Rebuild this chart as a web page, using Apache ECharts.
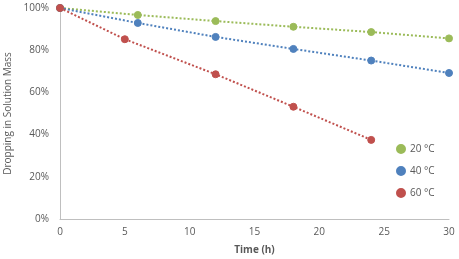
<!DOCTYPE html>
<html>
<head>
<meta charset="utf-8">
<script src="https://cdn.jsdelivr.net/npm/echarts@6/dist/echarts.min.js"></script>
<style>
  html, body { margin: 0; padding: 0; background: #fff; }
  #chart { width: 459px; height: 259px; }
</style>
</head>
<body>
<div id="chart"></div>
<script>
// values (time in h, mass in %)
const seriesNames = ['20 °C', '40 °C', '60 °C'];
const time20 = [0, 6, 12, 18, 24, 30];
const mass20 = [100, 96.7, 93.8, 91.1, 88.6, 85.6];
const time40 = [0, 6, 12, 18, 24, 30];
const mass40 = [100, 92.9, 86.3, 80.6, 75.1, 69.2];
const time60 = [0, 5, 12, 18, 24];
const mass60 = [100, 85.2, 68.6, 53.2, 37.5];
const colours = ['#9bbb59', '#4f81bd', '#c0504d'];

const pairs = (xs, ys) => xs.map((x, i) => [x, ys[i]]);
const allData = [pairs(time20, mass20), pairs(time40, mass40), pairs(time60, mass60)];

const chart = echarts.init(document.getElementById('chart'));

const series = seriesNames.map((name, i) => ({
    name: name,
    type: 'line',
    data: allData[i],
    symbol: 'circle',
    symbolSize: 7,
    itemStyle: { color: colours[i], borderColor: colours[i], borderWidth: 1 },
    lineStyle: { color: colours[i], width: 2, type: [2, 2] }
}));

chart.setOption({
    animation: false,
    textStyle: { fontFamily: 'Open Sans' },
    grid: { left: 60, right: 10, top: 8, bottom: 40, outerBoundsMode: 'none' },
    legend: {
        data: seriesNames,
        orient: 'vertical',
        left: 391,
        top: 139,
        itemWidth: 8,
        itemHeight: 8,
        itemGap: 12,
        icon: 'circle',
        textStyle: { color: '#595959', fontSize: 10 }
    },
    xAxis: {
        type: 'value',
        min: 0,
        max: 30,
        interval: 5,
        name: 'Time (h)',
        nameLocation: 'middle',
        nameGap: 26,
        nameTextStyle: { color: '#595959', fontSize: 10, fontWeight: 'bold' },
        axisLine: { lineStyle: { color: '#bfbfbf' } },
        axisTick: { show: false },
        axisLabel: { color: '#595959', fontSize: 10, margin: 8 },
        splitLine: { show: false }
    },
    yAxis: {
        type: 'value',
        min: 0,
        max: 100,
        interval: 20,
        name: 'Dropping in Solution Mass',
        nameLocation: 'middle',
        nameGap: 45,
        nameTextStyle: { color: '#595959', fontSize: 10 },
        axisLine: { show: true, lineStyle: { color: '#bfbfbf' } },
        axisTick: { show: false },
        axisLabel: { color: '#595959', fontSize: 10, margin: 11, formatter: '{value}%' },
        splitLine: { show: false }
    },
    series: series
});

window.addEventListener('resize', () => { chart.resize(); });
</script>
</body>
</html>
